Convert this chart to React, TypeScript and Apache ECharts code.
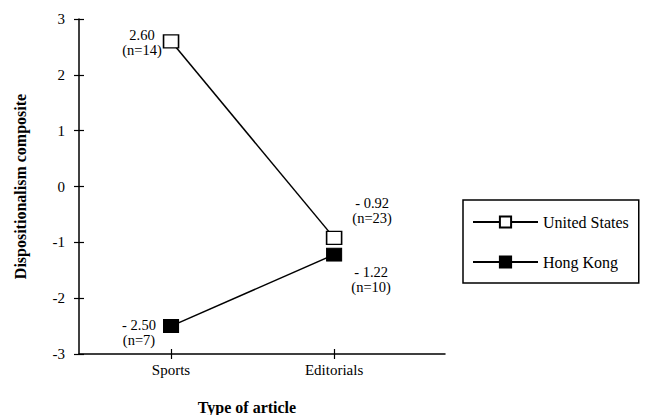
import React, { useEffect, useRef } from "react";
import * as echarts from "echarts";

const categories = ["Sports", "Editorials"];
const usValues = [2.6, -0.92];
const usN = [14, 23];
const hkValues = [-2.5, -1.22];
const hkN = [7, 10];
const seriesNames = ["United States", "Hong Kong"];

const usLabelOffsets = [[-29, 1], [38, -27]];
const hkLabelOffsets = [[-32, 6], [37, 25]];

const FONT = "'Liberation Serif', 'Times New Roman', serif";

function fmt(v: number, n: number) {
  const s = v < 0 ? "- " + Math.abs(v).toFixed(2) : v.toFixed(2);
  return s + "\n(n=" + n + ")";
}

export default function App() {
  const ref = useRef<HTMLDivElement>(null);
  useEffect(() => {
    document.body.style.margin = "0";
    const chart = echarts.init(ref.current!, null, { renderer: "svg" });
    const xMin = 0.4356;
    const xMax = 2.68;
    const catPos = categories.map((_, i) => i + 1);
    const labelBase = {
      show: true,
      position: "inside" as const,
      fontFamily: FONT,
      fontSize: 14.5,
      lineHeight: 15,
      color: "#000",
      align: "center" as const,
      verticalAlign: "middle" as const,
    };
    const mk = (vals: number[], ns: number[], offs: number[][]) =>
      vals.map((v, i) => ({
        value: [catPos[i], v],
        label: { ...labelBase, formatter: fmt(v, ns[i]), offset: offs[i] },
      }));
    const axisTextStyle = { fontFamily: FONT, fontSize: 15, color: "#000" };
    chart.setOption({
      animation: false,
      backgroundColor: "#fff",
      grid: { left: 79, top: 19, right: 200, bottom: 61, containLabel: false },
      xAxis: [
        {
          type: "value",
          min: xMin,
          max: xMax,
          splitLine: { show: false },
          axisLine: { show: true, onZero: false, lineStyle: { color: "#000", width: 1.5 } },
          axisTick: { show: true, length: 5, customValues: catPos, lineStyle: { color: "#000", width: 1.2 } },
          axisLabel: {
            ...axisTextStyle,
            margin: 8,
            customValues: catPos,
            formatter: (v: number) => categories[Math.round(v) - 1] ?? "",
          },
        },
        {
          type: "value",
          position: "bottom",
          min: xMin,
          max: xMax,
          splitLine: { show: false },
          axisLine: { show: false, onZero: false },
          axisTick: { show: true, inside: true, length: 5, customValues: catPos, lineStyle: { color: "#000", width: 1.2 } },
          axisLabel: { show: false },
        },
      ],
      yAxis: [
        {
          type: "value",
          min: -3,
          max: 3,
          interval: 1,
          splitLine: { show: false },
          axisLine: { show: true, onZero: false, lineStyle: { color: "#000", width: 1.5 } },
          axisTick: { show: true, length: 5, lineStyle: { color: "#000", width: 1.2 } },
          axisLabel: { ...axisTextStyle, margin: 14, formatter: (v: number) => String(v) },
          name: "Dispositionalism composite",
          nameLocation: "middle",
          nameGap: 51,
          nameTextStyle: { fontFamily: FONT, fontSize: 16, fontWeight: "bold", color: "#000" },
        },
        {
          type: "value",
          min: -3,
          max: 3,
          interval: 1,
          position: "left",
          splitLine: { show: false },
          axisLine: { show: false, onZero: false },
          axisTick: { show: true, inside: true, length: 5, lineStyle: { color: "#000", width: 1.2 } },
          axisLabel: { show: false },
        },
      ],
      legend: {
        data: seriesNames,
        orient: "vertical",
        left: 463,
        top: 200,
        borderColor: "#000",
        borderWidth: 1.5,
        borderRadius: 0,
        padding: [14, 10, 13, 9],
        itemWidth: 65,
        itemHeight: 14,
        itemGap: 24,
        textStyle: { fontFamily: FONT, fontSize: 16, color: "#000" },
      },
      series: [
        {
          name: seriesNames[0],
          type: "line",
          data: mk(usValues, usN, usLabelOffsets),
          symbol: "rect",
          symbolSize: [15, 13],
          lineStyle: { color: "#000", width: 1.5 },
          itemStyle: { color: "#fff", borderColor: "#000", borderWidth: 1.5 },
          z: 3,
        },
        {
          name: seriesNames[1],
          type: "line",
          data: mk(hkValues, hkN, hkLabelOffsets),
          symbol: "rect",
          symbolSize: [15, 13],
          lineStyle: { color: "#000", width: 1.5 },
          itemStyle: { color: "#000", borderColor: "#000", borderWidth: 1 },
          z: 3,
        },
      ],
      graphic: [
        {
          type: "text",
          x: 247,
          y: 407,
          style: {
            text: "Type of article",
            fontFamily: FONT,
            fontSize: 16,
            fontWeight: "bold",
            fill: "#000",
            align: "center",
            verticalAlign: "middle",
          },
        },
      ],
    });
    return () => chart.dispose();
  }, []);
  return <div ref={ref} style={{ width: 645, height: 415 }} />;
}
